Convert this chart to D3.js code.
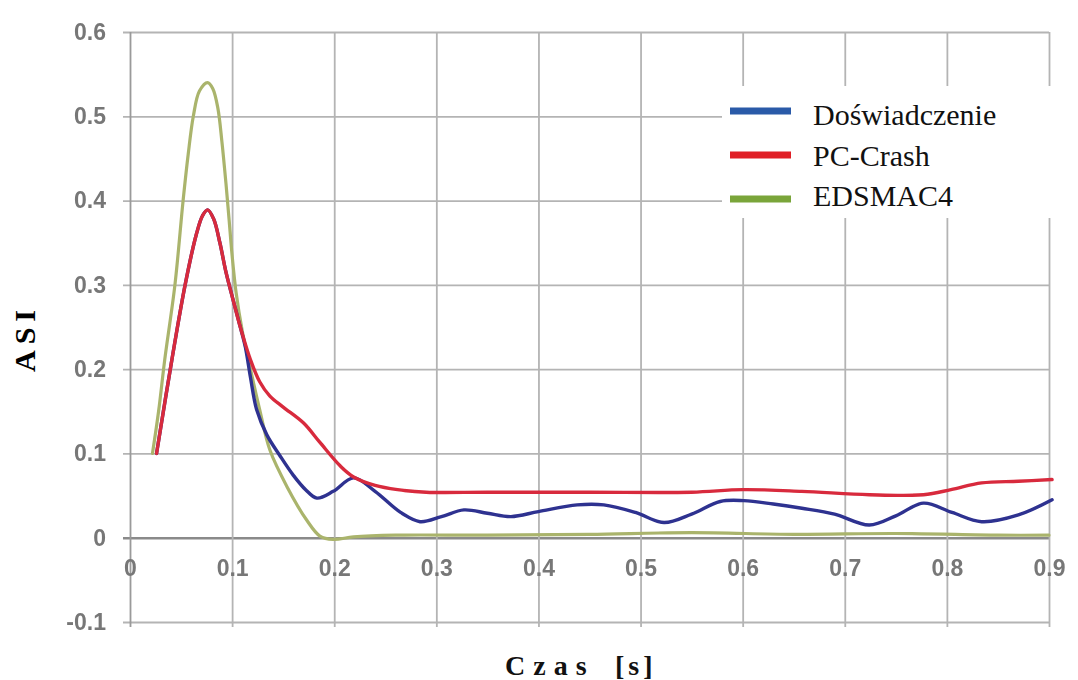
<!DOCTYPE html>
<html>
<head>
<meta charset="utf-8">
<script src="https://cdn.jsdelivr.net/npm/d3@7"></script>
<style>
  body { margin: 0; background: #fff; }
  svg { display: block; }
</style>
</head>
<body>
<div id="chart"></div>
<script>
// ASI w funkcji czasu
const xTicks = [0, 0.1, 0.2, 0.3, 0.4, 0.5, 0.6, 0.7, 0.8, 0.9];
const yTicks = [-0.1, 0, 0.1, 0.2, 0.3, 0.4, 0.5, 0.6];

const seriesNames = ["Doświadczenie", "PC-Crash", "EDSMAC4"];
const lineColors = ["#2e3190", "#d82a3c", "#aab46c"];
const legendColors = ["#2a5aa8", "#e01f26", "#7aa53a"];

const doswT = [0.026, 0.041, 0.054, 0.065, 0.071, 0.076, 0.082, 0.088, 0.094, 0.101, 0.108, 0.113, 0.118,
  0.124, 0.134, 0.147, 0.16, 0.172, 0.183, 0.199, 0.219, 0.24, 0.265, 0.284, 0.305, 0.327, 0.35, 0.373,
  0.4, 0.438, 0.464, 0.495, 0.523, 0.55, 0.578, 0.601, 0.63, 0.658, 0.69, 0.724, 0.75, 0.777, 0.805,
  0.834, 0.87, 0.903];
const doswV = [0.1, 0.211, 0.3, 0.36, 0.382, 0.389, 0.378, 0.35, 0.315, 0.282, 0.25, 0.226, 0.19,
  0.152, 0.122, 0.097, 0.074, 0.057, 0.047, 0.055, 0.071, 0.055, 0.03, 0.019, 0.025, 0.033, 0.029, 0.025,
  0.031, 0.039, 0.039, 0.03, 0.018, 0.028, 0.043, 0.044, 0.04, 0.035, 0.028, 0.015, 0.026, 0.041, 0.03,
  0.019, 0.027, 0.045];

const pcT = [0.026, 0.041, 0.054, 0.065, 0.071, 0.076, 0.082, 0.088, 0.094, 0.101, 0.108, 0.118, 0.127,
  0.137, 0.15, 0.17, 0.186, 0.206, 0.219, 0.24, 0.262, 0.29, 0.35, 0.45, 0.55, 0.6, 0.658, 0.724, 0.777,
  0.804, 0.834, 0.87, 0.903];
const pcV = [0.1, 0.211, 0.3, 0.36, 0.382, 0.389, 0.378, 0.35, 0.315, 0.282, 0.25, 0.211, 0.185,
  0.168, 0.155, 0.136, 0.113, 0.085, 0.072, 0.062, 0.057, 0.054, 0.054, 0.054, 0.054, 0.057, 0.055, 0.051, 0.051,
  0.057, 0.065, 0.067, 0.069];

const edsT = [0.022, 0.028, 0.034, 0.044, 0.052, 0.057, 0.062, 0.068, 0.076, 0.081, 0.086, 0.09, 0.094,
  0.097, 0.1, 0.104, 0.11, 0.118, 0.127, 0.137, 0.154, 0.173, 0.186, 0.199, 0.219, 0.26, 0.35, 0.45,
  0.55, 0.65, 0.75, 0.85, 0.9];
const edsV = [0.1, 0.15, 0.211, 0.3, 0.4, 0.455, 0.5, 0.53, 0.54, 0.533, 0.51, 0.47, 0.42,
  0.378, 0.335, 0.29, 0.245, 0.2, 0.152, 0.104, 0.06, 0.021, 0.002, -0.002, 0.001, 0.003, 0.003, 0.004,
  0.006, 0.004, 0.005, 0.003, 0.003];

const width = 1078;
const height = 680;

const svg = d3.select("#chart")
  .append("svg")
  .attr("width", width)
  .attr("height", height);

svg.append("defs").append("filter")
  .attr("id", "soft")
  .append("feGaussianBlur")
  .attr("stdDeviation", 0.6);

const xScale = d3.scaleLinear().domain([0, 0.9]).range([130, 1049]);
const yScale = d3.scaleLinear().domain([-0.1, 0.6]).range([622, 32]);
const fmt = d => String(+d.toFixed(1));

const plot = svg.append("g").attr("filter", "url(#soft)");

// siatka pozioma + etykiety osi Y
const yAxis = plot.append("g")
  .attr("transform", "translate(123,0)")
  .call(d3.axisLeft(yScale)
    .tickValues(yTicks)
    .tickSize(-(1049 - 123))
    .tickPadding(17)
    .tickFormat(fmt));
yAxis.select(".domain").remove();
yAxis.selectAll("line")
  .attr("stroke", d => d === 0 ? "#8a8a8a" : "#b4b4b4")
  .attr("stroke-width", d => d === 0 ? 2.6 : 1.8);

// siatka pionowa
const xGrid = plot.append("g")
  .attr("transform", "translate(0,627)")
  .call(d3.axisBottom(xScale)
    .tickValues(xTicks)
    .tickSize(-(627 - 32))
    .tickFormat(""));
xGrid.select(".domain").remove();
xGrid.selectAll("line")
  .attr("stroke", (d, i) => i === 0 ? "#9a9a9a" : "#b4b4b4")
  .attr("stroke-width", 1.8);

// etykiety osi X (pod linia zera)
const xAxis = plot.append("g")
  .attr("transform", `translate(0,${yScale(0)})`)
  .call(d3.axisBottom(xScale)
    .tickValues(xTicks)
    .tickSize(0)
    .tickPadding(22)
    .tickFormat(fmt));
xAxis.select(".domain").remove();

plot.selectAll(".tick text")
  .attr("fill", "#777")
  .attr("font-family", "Liberation Sans, Arial, sans-serif")
  .attr("font-weight", "bold")
  .attr("font-size", 23);

// linie serii
const series = [
  { name: seriesNames[0], t: doswT, v: doswV },
  { name: seriesNames[1], t: pcT, v: pcV },
  { name: seriesNames[2], t: edsT, v: edsV }
];

const line = d3.line()
  .x(d => xScale(d[0]))
  .y(d => yScale(d[1]))
  .curve(d3.curveCatmullRom.alpha(0.5));

[2, 0, 1].forEach(i => {
  const s = series[i];
  plot.append("path")
    .datum(d3.zip(s.t, s.v))
    .attr("fill", "none")
    .attr("stroke", lineColors[i])
    .attr("stroke-width", i === 2 ? 3.2 : 3.4)
    .attr("stroke-linejoin", "round")
    .attr("stroke-linecap", "round")
    .attr("d", line);
});

// legenda
const legend = svg.append("g");
legend.append("rect")
  .attr("x", 722)
  .attr("y", 86)
  .attr("width", 330)
  .attr("height", 132)
  .attr("fill", "#fff");

legend.selectAll(".leg-line")
  .data(seriesNames)
  .enter()
  .append("line")
  .attr("x1", 730)
  .attr("x2", 791)
  .attr("y1", (d, i) => 111 + i * 44)
  .attr("y2", (d, i) => 111 + i * 44)
  .attr("stroke", (d, i) => legendColors[i])
  .attr("stroke-width", 7);

legend.selectAll(".leg-text")
  .data(seriesNames)
  .enter()
  .append("text")
  .attr("x", 813)
  .attr("y", (d, i) => 125 + i * 40.5)
  .attr("font-family", "Liberation Serif, Times New Roman, serif")
  .attr("font-size", 30)
  .attr("fill", "#111")
  .text(d => d);

// tytuly osi
svg.append("text")
  .attr("transform", "translate(24,338) rotate(-90)")
  .attr("text-anchor", "middle")
  .attr("dominant-baseline", "central")
  .attr("font-family", "Liberation Serif, Times New Roman, serif")
  .attr("font-weight", "bold")
  .attr("font-size", 30)
  .attr("letter-spacing", 6)
  .text("ASI");

const titleX = svg.append("g")
  .attr("font-family", "Liberation Serif, Times New Roman, serif")
  .attr("font-weight", "bold")
  .attr("font-size", 28)
  .attr("fill", "#111");
titleX.append("text")
  .attr("x", 505)
  .attr("y", 675)
  .attr("letter-spacing", 8)
  .text("Czas");
titleX.append("text")
  .attr("x", 615)
  .attr("y", 675)
  .attr("letter-spacing", 4)
  .text("[s]");
</script>
</body>
</html>
